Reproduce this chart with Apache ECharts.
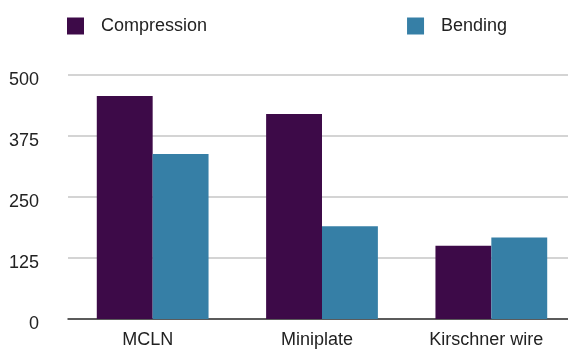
<!DOCTYPE html>
<html>
<head>
<meta charset="utf-8">
<title>Compression / Bending</title>
<script src="https://cdn.jsdelivr.net/npm/echarts@6/dist/echarts.min.js"></script>
<style>
  html, body { margin: 0; padding: 0; background: #fff; overflow: hidden; }
  #main { width: 576px; height: 349px; }
</style>
</head>
<body>
<div id="main"></div>
<script type="text/javascript">
var categories = ['MCLN', 'Miniplate', 'Kirschner wire'];
var compression = [457, 420, 150];
var bending = [338, 190, 167];

var font = '"Liberation Sans", Arial, sans-serif';
var myChart = echarts.init(document.getElementById('main'));

// the reference plot runs past the right edge of the picture, so the
// chart is a bit wider than the window and gets cropped there
var option = {
  backgroundColor: '#fff',
  animation: false,
  legend: {
    top: 17,
    left: 67,
    padding: 0,
    icon: 'rect',
    itemWidth: 17,
    itemHeight: 17,
    itemGap: 200,
    textStyle: { fontFamily: font, fontSize: 18, color: '#222', padding: [0, 0, 0, 12] },
    data: ['Compression', 'Bending']
  },
  grid: { left: 68, right: 0, top: 75, bottom: 29 },
  xAxis: {
    type: 'category',
    data: categories,
    axisTick: { show: false },
    axisLine: { lineStyle: { color: '#333', width: 1.5 } },
    axisLabel: { fontFamily: font, fontSize: 18, color: '#222', margin: 12, padding: [0, 10, 0, 0] }
  },
  yAxis: {
    type: 'value',
    min: 0,
    max: 500,
    interval: 125,
    axisLine: { show: false },
    axisTick: { show: false },
    axisLabel: {
      margin: 29,
      formatter: '{v|{value}}',
      rich: { v: { fontFamily: font, fontSize: 18, color: '#222', padding: [10, 0, 0, 0] } }
    },
    splitLine: { lineStyle: { color: '#c6c6c6', width: 1.5 } }
  },
  series: [
    {
      name: 'Compression',
      type: 'bar',
      barGap: '0%',
      barCategoryGap: '34%',
      itemStyle: { color: '#3d0a48' },
      data: compression
    },
    {
      name: 'Bending',
      type: 'bar',
      itemStyle: { color: '#367fa6' },
      data: bending
    }
  ]
};
myChart.setOption(option);
</script>
</body>
</html>
